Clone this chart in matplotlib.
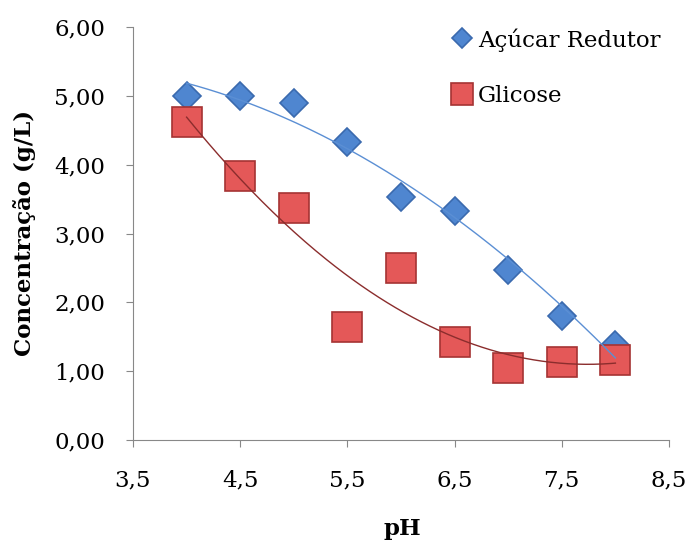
import numpy as np
import matplotlib
matplotlib.use("Agg")
import matplotlib.pyplot as plt
from matplotlib.ticker import FuncFormatter

ph = [4.0, 4.5, 5.0, 5.5, 6.0, 6.5, 7.0, 7.5, 8.0]
acucar = [5.00, 5.00, 4.90, 4.33, 3.53, 3.33, 2.47, 1.80, 1.38]
glicose = [4.62, 3.84, 3.37, 1.64, 2.50, 1.42, 1.05, 1.14, 1.16]
x_ticks = [3.5, 4.5, 5.5, 6.5, 7.5, 8.5]
y_ticks = [0, 1, 2, 3, 4, 5, 6]

plt.rcParams['font.family'] = ['DejaVu Serif']

fig = plt.figure(figsize=(6.93, 5.42), dpi=100)
ax = fig.add_axes([133/693, 1-440/542, (669-133)/693, (440-27)/542])

xs = np.linspace(min(ph), max(ph), 200)
pa = np.polyfit(ph, acucar, 2)
pg = np.polyfit(ph, glicose, 2)
ax.plot(xs, np.polyval(pa, xs), color='#5B8FD4', lw=1.0, zorder=3)
ax.plot(xs, np.polyval(pg, xs), color='#8B2D2D', lw=1.0, zorder=3)

ax.plot(ph, acucar, linestyle='none', marker='D', markersize=14,
        markerfacecolor='#4F86D0', markeredgecolor='#3A6AAE', markeredgewidth=1.2,
        label='Açúcar Redutor', zorder=2)
ax.plot(ph, glicose, linestyle='none', marker='s', markersize=21,
        markerfacecolor='#E45858', markeredgecolor='#A53333', markeredgewidth=1.2,
        label='Glicose', zorder=2)

ax.set_xlim(3.5, 8.5)
ax.set_ylim(0, 6)
ax.set_xticks(x_ticks)
ax.set_yticks(y_ticks)
ax.xaxis.set_major_formatter(FuncFormatter(lambda v, p: f"{v:.1f}".replace('.', ',')))
ax.yaxis.set_major_formatter(FuncFormatter(lambda v, p: f"{v:.2f}".replace('.', ',')))
ax.tick_params(axis='y', direction='out', length=5, color='#888888', labelsize=16.5, pad=15)
ax.tick_params(axis='x', direction='out', length=5, color='#888888', labelsize=16.5, pad=16)
for s in ['top', 'right']:
    ax.spines[s].set_visible(False)
for s in ['left', 'bottom']:
    ax.spines[s].set_color('#888888')
ax.set_xlabel('pH', fontsize=16.5, fontweight='bold')
ax.set_ylabel('Concentração (g/L)', fontsize=16.5, fontweight='bold')
ax.xaxis.set_label_coords((402-133)/(669-133), -(529-440)/(440-27))
ax.yaxis.set_label_coords(-(133-25)/(669-133), (440-233)/(440-27))
ax.xaxis.label.set_va('center')
ax.yaxis.label.set_va('center')

leg = ax.legend(loc='upper left', bbox_to_anchor=(448/693, 1-28/542), bbox_transform=fig.transFigure,
                frameon=False, fontsize=16.5, borderpad=0, borderaxespad=0,
                handletextpad=0.1, labelspacing=1.45, markerscale=0.75, handlelength=1.2)

fig.savefig('out.png', dpi=100)
